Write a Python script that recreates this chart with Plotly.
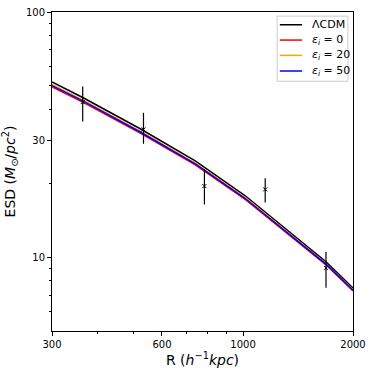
import plotly.graph_objects as go

# model curves
r_model = [300, 364, 523, 740, 1014, 1264, 1687, 2000]
esd_lcdm = [51.8, 44.8, 33.4, 24.7, 17.8, 13.6, 9.57, 7.48]
esd_eps0 = [49.5, 42.9, 32.1, 23.8, 17.2, 13.2, 9.31, 7.29]
esd_eps20 = [50.7, 43.8, 32.7, 24.2, 17.5, 13.4, 9.43, 7.37]
esd_eps50 = [50.1, 43.4, 32.4, 24.0, 17.35, 13.3, 9.37, 7.33]

# measured points with error bars
r_obs = [364, 534, 784, 1150, 1687]
esd_obs = [42.9, 33.2, 19.5, 18.9, 9.04]
esd_hi = [49.7, 38.8, 22.9, 21.0, 10.5]
esd_lo = [35.8, 29.0, 16.4, 16.7, 7.51]

x_ticks = [300, 600, 1000, 2000]
y_ticks = [10, 30, 100]

FONT = 'DejaVu Sans'

fig = go.Figure()

curves = [
    (esd_lcdm, 'black', 'ΛCDM'),
    (esd_eps0, 'red', '<i>ε<sub>i</sub></i> = 0'),
    (esd_eps20, 'orange', '<i>ε<sub>i</sub></i> = 20'),
    (esd_eps50, 'blue', '<i>ε<sub>i</sub></i> = 50'),
]
for vals, color, name in curves:
    fig.add_trace(
        go.Scatter(
            x=r_model,
            y=vals,
            mode='lines',
            line=dict(color=color, width=1.5),
            name=name,
            showlegend=False,
        ))

fig.add_trace(
    go.Scatter(
        x=r_obs,
        y=esd_obs,
        mode='markers',
        marker=dict(symbol='x-thin', size=4, line=dict(color='black', width=1)),
        error_y=dict(
            type='data',
            symmetric=False,
            array=[h - v for h, v in zip(esd_hi, esd_obs)],
            arrayminus=[v - l for v, l in zip(esd_obs, esd_lo)],
            color='black',
            thickness=1.2,
            width=0,
        ),
        showlegend=False,
    ))

# legend drawn by hand (plotly's own legend rows are too tall here)
fig.add_shape(type='rect', xref='paper', yref='paper', x0=0.748, x1=0.983, y0=0.783, y1=0.987,
              line=dict(color='#cccccc', width=1), fillcolor='white', layer='above')
row_y = [0.960, 0.912, 0.864, 0.815]
for (vals, color, name), yy in zip(curves, row_y):
    fig.add_shape(type='line', xref='paper', yref='paper', x0=0.757, x1=0.831, y0=yy, y1=yy,
                  line=dict(color=color, width=1.5), layer='above')
    fig.add_annotation(x=0.857, y=yy, xref='paper', yref='paper', text=name, showarrow=False,
                       xanchor='left', yanchor='middle', font=dict(size=11, color='black'))

# Update x-axis
fig.update_xaxes(
    type='log',
    range=[2.4771, 3.30103],
    tickvals=x_ticks,
    ticktext=[str(v) for v in x_ticks],
    ticks='outside',
    ticklen=4,
    tickcolor='black',
    minor=dict(tickvals=[400, 500, 700, 800, 900], ticks='outside', ticklen=2, tickcolor='black'),
    showline=True,
    linecolor='black',
    linewidth=1,
    mirror=True,
    showgrid=False,
    zeroline=False,
    automargin=False,
    title=dict(text='R (<i>h</i><sup>−1</sup><i>kpc</i>)', font=dict(size=14, color='black'), standoff=4),
    tickfont=dict(size=10, color='black'),
)

# Update y-axis
fig.update_yaxes(
    type='log',
    range=[0.69897, 2],
    tickvals=y_ticks,
    ticktext=[str(v) for v in y_ticks],
    ticks='outside',
    ticklen=4,
    tickcolor='black',
    minor=dict(tickvals=[6, 7, 8, 9, 20, 40, 50, 60, 70, 80, 90], ticks='outside', ticklen=2,
               tickcolor='black'),
    showline=True,
    linecolor='black',
    linewidth=1,
    mirror=True,
    showgrid=False,
    zeroline=False,
    automargin=False,
    title=dict(text='ESD (<i>M</i><sub>⊙</sub>/<i>pc</i><sup>2</sup>)', font=dict(size=14, color='black'),
               standoff=8),
    tickfont=dict(size=10, color='black'),
)

fig.update_layout(
    width=374,
    height=374,
    margin=dict(l=52, r=21, t=12, b=43, autoexpand=False),
    paper_bgcolor='white',
    plot_bgcolor='white',
    font=dict(family=FONT, color='black'),
    showlegend=False,
)

# drop the browser's default page margin so the figure sits at the corner
fig.write_html('out.html', config={'displayModeBar': False},
               post_script="document.body.style.margin='0';")
